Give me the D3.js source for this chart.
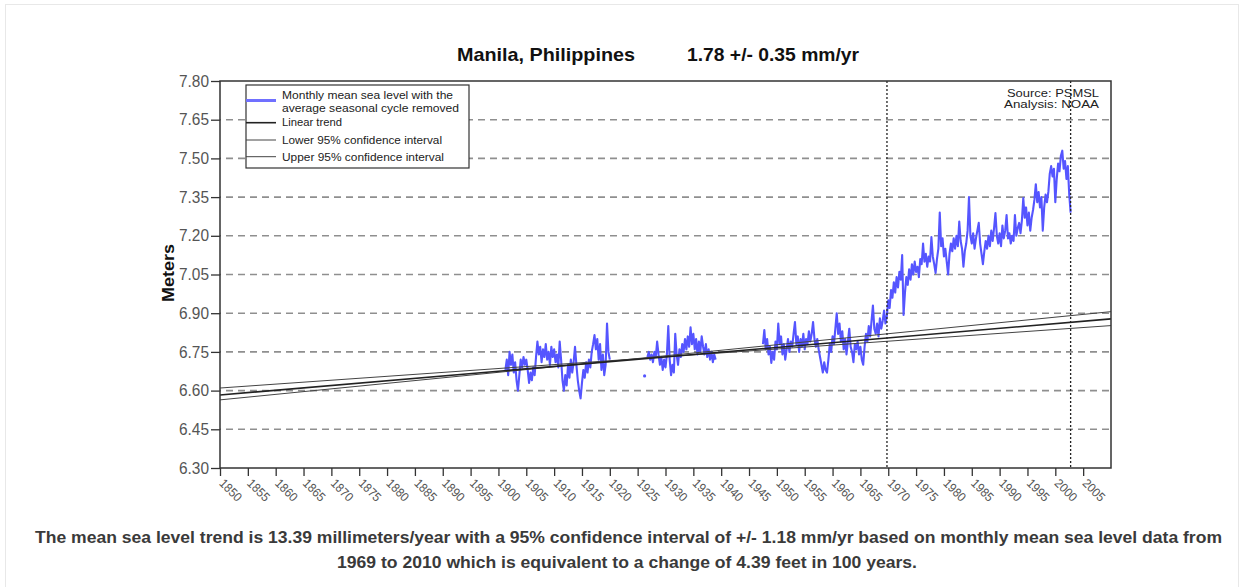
<!DOCTYPE html>
<html><head><meta charset="utf-8">
<script src="https://cdn.jsdelivr.net/npm/d3@7/dist/d3.min.js"></script>
<style>
html,body{margin:0;padding:0;background:#fff;}
svg{display:block;font-family:"Liberation Sans",Arial,sans-serif;}
</style></head>
<body>
<svg id="chart" width="1244" height="587"></svg>
<script>
// ---------------- DATA ----------------
const titleLeft = "Manila, Philippines";
const titleRight = "1.78 +/- 0.35 mm/yr";
const yLabel = "Meters";
const captionLines = [
  "The mean sea level trend is 13.39 millimeters/year with a 95% confidence interval of +/- 1.18 mm/yr based on monthly mean sea level data from",
  "1969 to 2010 which is equivalent to a change of 4.39 feet in 100 years."
];
const sourceLines = ["Source: PSMSL", "Analysis: NOAA"];
const legendLabels = [
  ["Monthly mean sea level with the", "average seasonal cycle removed"],
  ["Linear trend"],
  ["Lower 95% confidence interval"],
  ["Upper 95% confidence interval"]
];
const yTicks = [6.30, 6.45, 6.60, 6.75, 6.90, 7.05, 7.20, 7.35, 7.50, 7.65, 7.80];
const xTicks = [1850,1855,1860,1865,1870,1875,1880,1885,1890,1895,1900,1905,1910,1915,1920,1925,1930,1935,1940,1945,1950,1955,1960,1965,1970,1975,1980,1985,1990,1995,2000,2005];
const xDomain = [1850, 2010];
const yDomain = [6.30, 7.80];

// sampling step of the read-off series (years)
const sampleStep = 0.25;

// segment 1: 1901.25 - 1920
const seg1Start = 1901.25;
const seg1Values = [6.68,6.72,6.66,6.75,6.70,6.74,6.67,6.71,6.64,6.60,6.66,6.72,6.69,6.73,6.70,6.72,
6.68,6.63,6.67,6.64,6.69,6.66,6.73,6.79,6.74,6.77,6.71,6.76,6.73,6.78,6.72,6.75,6.70,6.77,6.73,6.76,
6.71,6.74,6.69,6.79,6.72,6.64,6.60,6.66,6.62,6.70,6.65,6.72,6.67,6.71,6.77,6.70,6.64,6.60,6.57,6.63,
6.68,6.65,6.71,6.67,6.72,6.69,6.75,6.78,6.815,6.76,6.80,6.72,6.78,6.68,6.74,6.66,6.70,6.86,6.75,6.72];

// isolated reading 1926.25
const seg2Start = 1926.25;
const seg2Values = [6.657];

// segment 3: 1926.75 - 1939
const seg3Start = 1926.75;
const seg3Values = [6.73,6.75,6.72,6.74,6.71,6.75,6.73,6.79,6.74,6.70,6.73,6.68,6.72,6.69,6.74,6.85,
6.72,6.66,6.70,6.67,6.82,6.74,6.70,6.76,6.73,6.78,6.75,6.80,6.76,6.81,6.77,6.845,6.78,6.82,6.76,6.80,
6.74,6.79,6.75,6.81,6.77,6.74,6.78,6.73,6.76,6.72,6.75,6.71,6.74,6.72];

// segment 4: 1947.5 - 2002.75
const seg4Start = 1947.5;
const seg4Values = [6.78,6.835,6.76,6.80,6.74,6.77,6.707,6.75,6.72,6.79,6.76,6.86,6.78,6.81,6.74,6.78,
6.72,6.76,6.80,6.75,6.79,6.77,6.82,6.866,6.78,6.81,6.75,6.80,6.77,6.82,6.76,6.80,6.78,6.83,6.79,6.82,
6.866,6.80,6.77,6.80,6.76,6.73,6.70,6.67,6.71,6.68,6.67,6.72,6.78,6.75,6.81,6.78,6.84,6.90,6.82,6.86,
6.79,6.83,6.76,6.80,6.74,6.79,6.84,6.77,6.75,6.71,6.78,6.76,6.79,6.74,6.77,6.72,6.70,6.77,6.82,6.79,
6.85,6.81,6.87,6.93,6.84,6.82,6.86,6.81,6.88,6.84,6.87,6.91,6.86,6.89,6.95,6.92,6.99,6.96,7.02,6.98,
7.04,7.00,7.06,7.03,7.125,6.893,6.98,7.04,7.01,7.07,7.03,7.09,7.05,7.10,7.06,7.08,7.04,7.11,7.09,7.17,
7.10,7.13,7.08,7.12,7.10,7.195,7.12,7.09,7.056,7.11,7.15,7.29,7.16,7.19,7.12,7.15,7.10,7.05,7.13,7.17,
7.14,7.19,7.15,7.20,7.16,7.255,7.18,7.15,7.08,7.14,7.17,7.22,7.35,7.20,7.17,7.21,7.15,7.19,7.22,7.25,
7.17,7.13,7.09,7.14,7.18,7.15,7.20,7.16,7.22,7.18,7.23,7.288,7.20,7.17,7.21,7.16,7.24,7.19,7.22,7.28,
7.19,7.21,7.17,7.20,7.18,7.28,7.20,7.23,7.25,7.21,7.26,7.346,7.27,7.31,7.24,7.29,7.22,7.27,7.30,7.34,
7.40,7.33,7.37,7.31,7.35,7.22,7.31,7.36,7.33,7.37,7.44,7.47,7.43,7.46,7.33,7.42,7.48,7.45,7.51,7.53,
7.46,7.49,7.42,7.47,7.36,7.29];

// trend lines (end points)
const trendYears = [1850, 2010];
const trendValues = [6.583, 6.878];
const lowerCIValues = [6.610, 6.852];
const upperCIValues = [6.564, 6.906];

// dotted vertical markers
const markerYears = [1969.77, 2002.75];

// ---------------- DRAW ----------------
const svg = d3.select("#chart");
const x = d3.scaleLinear().domain(xDomain).range([220, 1111]);
const y = d3.scaleLinear().domain(yDomain).range([468, 81]);

// page frame
svg.append("rect").attr("x",5.5).attr("y",4.5).attr("width",1233).attr("height",590)
  .attr("fill","none").attr("stroke","#e8e8e8").attr("stroke-width",1);

// gridlines
svg.append("g").selectAll("line").data(yTicks.filter(v => v > 6.31 && v < 7.79)).join("line")
  .attr("x1", x(xDomain[0])).attr("x2", x(xDomain[1]))
  .attr("y1", d => y(d)).attr("y2", d => y(d))
  .attr("stroke","#8f8f8f").attr("stroke-width",1.6).attr("stroke-dasharray","7,5")
  .attr("stroke-dashoffset", -6);

// data series
const segments = [
  {start: seg1Start, values: seg1Values},
  {start: seg2Start, values: seg2Values},
  {start: seg3Start, values: seg3Values},
  {start: seg4Start, values: seg4Values}
];
const line = d3.line().x(d => x(d[0])).y(d => y(d[1]));
const dataG = svg.append("g");
segments.forEach(s => {
  const pts = s.values.map((v, i) => [s.start + i * sampleStep, v]);
  if (pts.length === 1) {
    dataG.append("circle").attr("cx", x(pts[0][0])).attr("cy", y(pts[0][1])).attr("r", 1.6).attr("fill", "#5555ff");
  } else {
    dataG.append("path").datum(pts).attr("d", line)
      .attr("fill","none").attr("stroke","#5555ff").attr("stroke-width",2.1).attr("stroke-linejoin","round");
  }
});

// trend + CI lines
const trendG = svg.append("g");
[[lowerCIValues, "#444", 1], [upperCIValues, "#444", 1], [trendValues, "#222", 1.6]].forEach(([vals, col, w]) => {
  trendG.append("path").datum(trendYears.map((yr, i) => [yr, vals[i]])).attr("d", line)
    .attr("fill","none").attr("stroke", col).attr("stroke-width", w);
});

// dotted markers
svg.append("g").selectAll("line").data(markerYears).join("line")
  .attr("x1", d => x(d)).attr("x2", d => x(d)).attr("y1", y(yDomain[1])).attr("y2", y(yDomain[0]))
  .attr("stroke","#222").attr("stroke-width",1.3).attr("stroke-dasharray","2,2");

// frame
svg.append("rect").attr("x", x(xDomain[0])).attr("y", y(yDomain[1]))
  .attr("width", x(xDomain[1]) - x(xDomain[0])).attr("height", y(yDomain[0]) - y(yDomain[1]))
  .attr("fill","none").attr("stroke","#333").attr("stroke-width",1.5);

// y axis
const yAxis = d3.axisLeft(y).tickValues(yTicks).tickFormat(d3.format(".2f")).tickSize(9).tickPadding(2);
const yg = svg.append("g").attr("transform", `translate(${x(xDomain[0])},0)`).call(yAxis);
yg.select(".domain").remove();
yg.selectAll(".tick line").attr("stroke","#333").attr("stroke-width",1.3);
yg.selectAll(".tick text").attr("fill","#555").attr("font-size",16).attr("font-family","Liberation Sans, Arial, sans-serif")
  .attr("textLength",30).attr("lengthAdjust","spacingAndGlyphs");

// x axis
const xAxis = d3.axisBottom(x).tickValues(xTicks).tickFormat(d3.format("d")).tickSize(8);
const xg = svg.append("g").attr("transform", `translate(0,${y(yDomain[0])})`).call(xAxis);
xg.select(".domain").remove();
xg.selectAll(".tick line").attr("stroke","#333").attr("stroke-width",1.3);
xg.selectAll(".tick text")
  .attr("fill","#555").attr("font-size",12.5).attr("font-family","Liberation Sans, Arial, sans-serif")
  .attr("text-anchor","start").attr("y",0).attr("dy",0)
  .attr("textLength",26).attr("lengthAdjust","spacingAndGlyphs")
  .attr("transform","translate(-2,16) rotate(45)");

// y label
svg.append("text").attr("transform","translate(174,273) rotate(-90)")
  .attr("text-anchor","middle").attr("font-size",17).attr("font-weight","bold").attr("fill","#111")
  .attr("textLength",58).attr("lengthAdjust","spacingAndGlyphs")
  .text(yLabel);

// title
svg.append("text").attr("x",457).attr("y",61).attr("font-size",18.5).attr("font-weight","bold").attr("fill","#111")
  .attr("textLength",178).attr("lengthAdjust","spacingAndGlyphs").text(titleLeft);
svg.append("text").attr("x",687).attr("y",61).attr("font-size",18.5).attr("font-weight","bold").attr("fill","#111")
  .attr("textLength",172).attr("lengthAdjust","spacingAndGlyphs").text(titleRight);

// source
const srcWidths = [92, 95];
const srcY = [97, 108];
sourceLines.forEach((t, i) => {
  svg.append("text").attr("x", 1099).attr("y", srcY[i]).attr("text-anchor","end")
    .attr("font-size",11).attr("fill","#222")
    .attr("textLength", srcWidths[i]).attr("lengthAdjust","spacingAndGlyphs").text(t);
});

// legend
const lg = svg.append("g");
lg.append("rect").attr("x",246).attr("y",85).attr("width",223).attr("height",83)
  .attr("fill","#fff").attr("stroke","#333").attr("stroke-width",1.2);
const legendLineY = [100.5, 122.7, 140, 156.7];
const legendStyles = [["#7070ff",3],["#222",1.6],["#444",1],["#444",1]];
const legendTextWidths = [[171,177],[60],[160],[162]];
const legendTextY = [[99,111.5],[126],[143.5],[160.5]];
legendLabels.forEach((lab, i) => {
  lg.append("line").attr("x1",246).attr("x2",276).attr("y1",legendLineY[i]).attr("y2",legendLineY[i])
    .attr("stroke",legendStyles[i][0]).attr("stroke-width",legendStyles[i][1]);
  lab.forEach((t, j) => {
    lg.append("text").attr("x",282).attr("y",legendTextY[i][j]).attr("font-size",11).attr("fill","#222")
      .attr("textLength",legendTextWidths[i][j]).attr("lengthAdjust","spacingAndGlyphs").text(t);
  });
});

// caption
const capX = [35, 337], capW = [1187, 580], capY = [543, 568];
captionLines.forEach((t, i) => {
  svg.append("text").attr("x",capX[i]).attr("y",capY[i]).attr("font-size",16.5).attr("font-weight","bold")
    .attr("fill","#3a3a3a").attr("textLength",capW[i]).attr("lengthAdjust","spacingAndGlyphs").text(t);
});
</script>
</body></html>
